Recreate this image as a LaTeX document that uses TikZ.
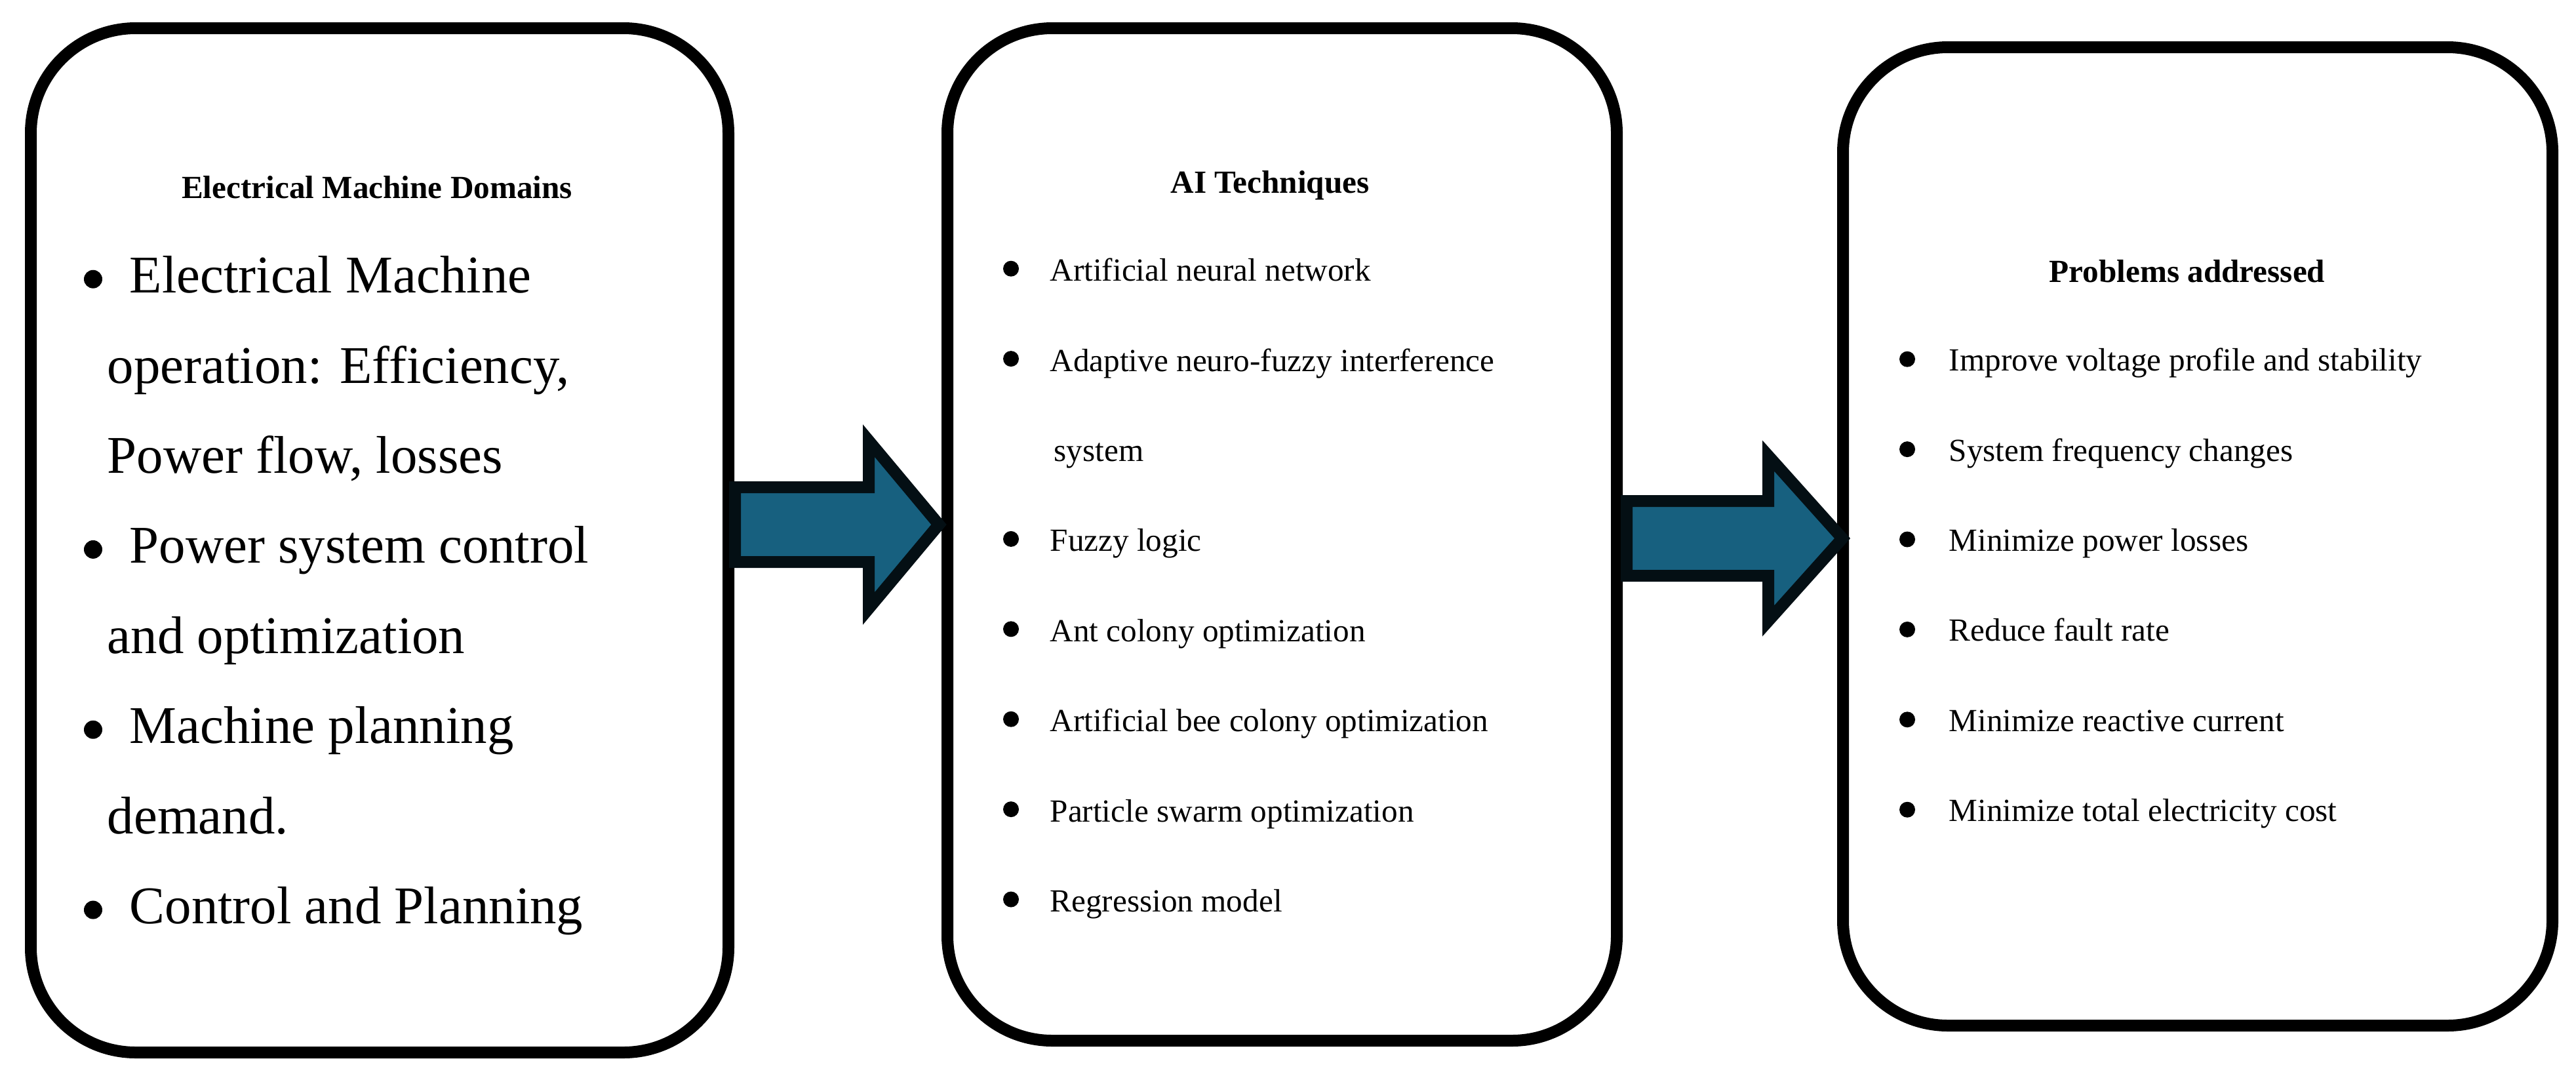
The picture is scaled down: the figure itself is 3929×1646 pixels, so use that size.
\documentclass[tikz,border=0pt]{standalone}
\usepackage{fontspec}
\setmainfont{Liberation Serif}
\usetikzlibrary{positioning,calc}
\definecolor{flowc}{HTML}{17607F}
\definecolor{flowline}{HTML}{040F14}
\tikzset{
  panel/.style={draw=black, line width=1.8mm, rounded corners=16mm, outer sep=0pt, inner sep=0pt},
  ttl/.style={font=\fontsize{14}{17}\selectfont\bfseries, inner sep=0pt, anchor=base},
  itm/.style={font=\fontsize{14}{17}\selectfont, inner sep=0pt, text height=9mm, text depth=4.6mm},
  bigitm/.style={itm, font=\fontsize{23}{28}\selectfont},
  flow/.style={draw=flowline, fill=flowc, line width=1.8mm, line join=miter},
}

\begin{document}
\begin{tikzpicture}[x=0.1mm, y=-0.1mm, node distance=0pt]
  \useasboundingbox (0,0) rectangle (3929,1646);
  % the three panels
  \node[panel, minimum width=106.4mm, minimum height=156.2mm] (dom) at (579,824) {};
  \node[panel, minimum width=102.1mm, minimum height=154.4mm] (tech) at (1955.5,815) {};
  \node[panel, minimum width=108.2mm, minimum height=149.2mm] (prob) at (3352,818) {};
  \node[ttl] (domt) at (575,302) {Electrical Machine Domains};
  \node[ttl] (techt) at (1937,294) {AI Techniques};
  \node[ttl] (probt) at (3336,430) {Problems addressed};
  % domains
  \node[bigitm, anchor=north west] (dm1) at (197,356) {Electrical Machine};
  \node[bigitm, below=of dm1.south west, anchor=north west, xshift=-3.4mm] (dm1b) {operation: Efficiency,};
  \node[bigitm, below=of dm1b.south west, anchor=north west] (dm1c) {Power flow, losses};
  \node[bigitm, below=of dm1c.south west, anchor=north west, xshift=3.4mm] (dm2) {Power system control};
  \node[bigitm, below=of dm2.south west, anchor=north west, xshift=-3.4mm] (dm2b) {and optimization};
  \node[bigitm, below=of dm2b.south west, anchor=north west, xshift=3.4mm] (dm3) {Machine planning};
  \node[bigitm, below=of dm3.south west, anchor=north west, xshift=-3.4mm] (dm3b) {demand.};
  \node[bigitm, below=of dm3b.south west, anchor=north west, xshift=3.4mm] (dm4) {Control and Planning};
  % techniques
  \node[itm, anchor=north west] (ai1) at (1601,338) {Artificial neural network};
  \node[itm, below=of ai1.south west, anchor=north west] (ai2) {Adaptive neuro-fuzzy interference};
  \node[itm, below=of ai2.south west, anchor=north west, xshift=0.6mm] (ai2b) {system};
  \node[itm, below=of ai2b.south west, anchor=north west, xshift=-0.6mm] (ai3) {Fuzzy logic};
  \node[itm, below=of ai3.south west, anchor=north west] (ai4) {Ant colony optimization};
  \node[itm, below=of ai4.south west, anchor=north west] (ai5) {Artificial bee colony optimization};
  \node[itm, below=of ai5.south west, anchor=north west] (ai6) {Particle swarm optimization};
  \node[itm, below=of ai6.south west, anchor=north west] (ai7) {Regression model};
  % problems
  \node[itm, anchor=north west] (pr1) at (2972,475) {Improve voltage profile and stability};
  \node[itm, below=of pr1.south west, anchor=north west] (pr2) {System frequency changes};
  \node[itm, below=of pr2.south west, anchor=north west] (pr3) {Minimize power losses};
  \node[itm, below=of pr3.south west, anchor=north west] (pr4) {Reduce fault rate};
  \node[itm, below=of pr4.south west, anchor=north west] (pr5) {Minimize reactive current};
  \node[itm, below=of pr5.south west, anchor=north west] (pr6) {Minimize total electricity cost};
  % bullets
  \foreach \n in {dm1,dm2,dm3,dm4} \fill ($(\n.base west)+(-55,-21)$) circle (1.4mm);
  \foreach \n in {ai1,ai2,ai3,ai4,ai5,ai6,ai7} \fill ($(\n.base west)+(-59,-19)$) circle (1.2mm);
  \foreach \n in {pr1,pr2,pr3,pr4,pr5,pr6} \fill ($(\n.base west)+(-63,-18)$) circle (1.2mm);
  % block arrows
  \draw[flow] ($(dom.east)+(10,-24)$) ++(0,-57) -- ++(204,0) -- ++(0,-71) -- ++(107,128) -- ++(-107,128) -- ++(0,-71) -- ++(-204,0) -- cycle;
  \draw[flow] ($(tech.east)+(15,6)$) ++(0,-57) -- ++(216,0) -- ++(0,-69) -- ++(113,126) -- ++(-113,126) -- ++(0,-69) -- ++(-216,0) -- cycle;
\end{tikzpicture}
\end{document}
